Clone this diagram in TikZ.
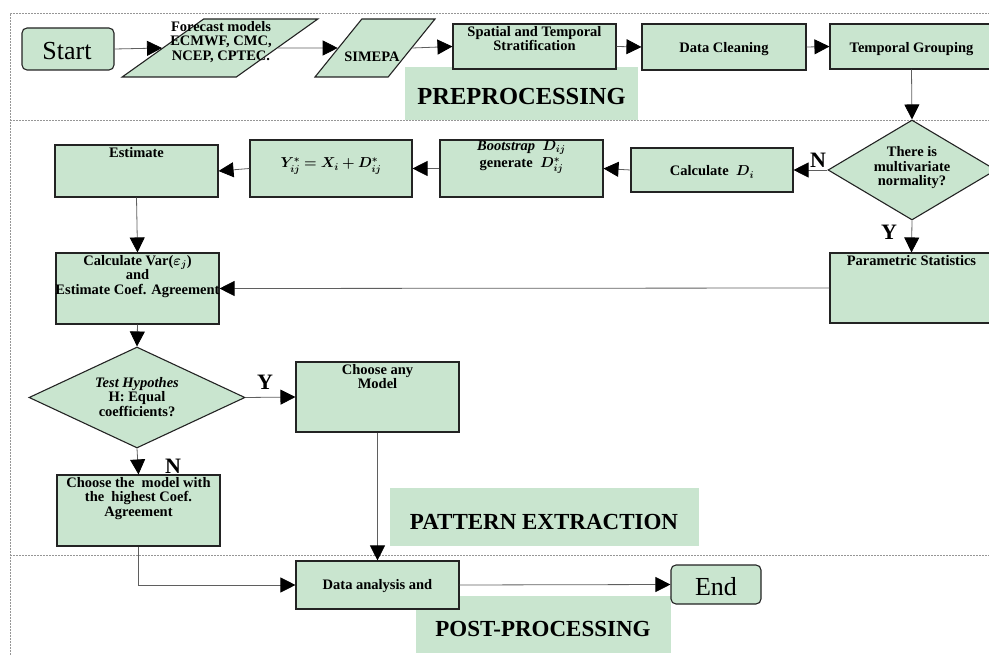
\documentclass[tikz,border=0pt]{standalone}
\usepackage{amsmath,bm}
\usepackage{fontspec}
\setmainfont{Liberation Serif}
\usetikzlibrary{shapes.geometric,arrows.meta}
\definecolor{boxgreen}{RGB}{201,229,207}
\definecolor{edgegray}{RGB}{35,35,35}
\definecolor{linegray}{RGB}{95,95,95}
\definecolor{framegray}{RGB}{150,150,150}
\begin{document}
\begin{tikzpicture}[x=1pt,y=-1pt,
  box/.style={draw=edgegray, fill=boxgreen, line width=1.1pt, inner sep=0pt},
  pgram/.style={box, trapezium, trapezium stretches=true, inner sep=2pt},
  dmd/.style={box, diamond, inner sep=2pt},
  txt/.style={font=\bfseries\fontsize{14.5}{14.5}\selectfont, align=center, inner sep=0pt},
  big/.style={font=\fontsize{26}{26}\selectfont, inner sep=0pt},
  stage/.style={fill=boxgreen, inner sep=0pt},
  stagetxt/.style={font=\bfseries\fontsize{23}{23}\selectfont, inner sep=0pt},
  yn/.style={font=\bfseries\fontsize{22}{22}\selectfont, inner sep=0pt},
  conn/.style={draw=linegray, line width=0.8pt, -{Triangle[length=15pt,width=15pt,black]}},
  frame/.style={draw=framegray, line width=0.5pt, dash pattern=on 2pt off 1pt}
]
\useasboundingbox (0,0) rectangle (989,655);
\clip (0,0) rectangle (989,655);
% frame
\draw[frame] (10,655) -- (10,13) -- (989,13);
\draw[frame] (10,120) -- (989,120);
\draw[frame] (10,555) -- (989,555);
% stage labels
\node[stage, minimum width=233pt, minimum height=53pt] (pre) at (521.5,93.5) {};
\node[stagetxt, font=\bfseries\fontsize{24.5}{24.5}\selectfont] (pret) at (521.5,97) {PREPROCESSING};
\node[stage, minimum width=309pt, minimum height=58pt] (pat) at (544.5,517) {};
\node[stagetxt] (patt) at (544,522) {PATTERN EXTRACTION};
\node[stage, minimum width=255pt, minimum height=57pt] (post) at (543.5,624.5) {};
\node[stagetxt] (postt) at (543,629) {POST-PROCESSING};
% row 1
\node[box, rounded corners=5pt, minimum width=92pt, minimum height=42pt] (start) at (68,49) {};
\node[big] (startt) at (67,51) {Start};
\node[pgram, trapezium left angle=58, trapezium right angle=122, minimum width=196pt, minimum height=58pt] (fc) at (220,48) {\strut};
\node[txt] (fct) at (221,42) {Forecast models\\ECMWF, CMC,\\NCEP, CPTEC.};
\node[pgram, trapezium left angle=66, trapezium right angle=114, minimum width=120pt, minimum height=58pt] (sim) at (375,48) {\strut};
\node[txt] (simt) at (372,57) {SIMEPA};
\node[box, minimum width=163pt, minimum height=45pt] (spat) at (534.5,46.5) {};
\node[txt, anchor=north] (spatt) at (534.5,26) {Spatial and Temporal\\Stratification};
\node[box, minimum width=164pt, minimum height=46pt] (clean) at (724,47) {};
\node[txt] (cleant) at (724,49) {Data Cleaning};
\node[box, minimum width=163pt, minimum height=45pt] (tgrp) at (911.5,46.5) {};
\node[txt] (tgrpt) at (911.5,49) {Temporal Grouping};
% row 2
\node[dmd, minimum width=168pt, minimum height=100pt] (dia1) at (912,170) {};
\node[txt] (dia1t) at (912,168) {There is\\multivariate\\normality?};
\node[box, minimum width=162pt, minimum height=44pt] (calcd) at (712,170) {};
\node[txt] (calcdt) at (712,172) {Calculate \ $\bm{D_i}$};
\node[box, minimum width=163pt, minimum height=57pt] (boot) at (521.5,168.5) {};
\node[txt, anchor=north] (boott) at (521.5,140) {{\itshape Bootstrap}\ \ $\bm{D_{ij}}$\\[3pt]generate\ \ $\bm{D^{*}_{ij}}$};
\node[box, minimum width=162pt, minimum height=57pt] (ybox) at (331,168.5) {};
\node[txt] (yboxt) at (331,166) {$\bm{Y^{*}_{ij}=X_i+D^{*}_{ij}}$};
\node[box, minimum width=163pt, minimum height=52pt] (est) at (136.5,171) {};
\node[txt, anchor=north] (estt) at (136.5,147) {Estimate};
% row 3
\node[box, minimum width=163pt, minimum height=71pt] (cvar) at (137.5,288.5) {};
\node[txt, anchor=north] (cvart) at (137.5,255) {Calculate Var($\bm{\varepsilon_j}$)\\and\\Estimate Coef. Agreement};
\node[box, minimum width=163pt, minimum height=70pt] (param) at (911.5,288) {};
\node[txt, anchor=north] (paramt) at (911.5,255) {Parametric Statistics};
% row 4
\node[dmd, minimum width=216pt, minimum height=101pt] (dia2) at (137,397.5) {};
\node[txt] (dia2t) at (137,397) {{\itshape Test Hypothes}\\H: Equal\\coefficients?};
\node[box, minimum width=163pt, minimum height=70pt] (cany) at (377.5,397) {};
\node[txt, anchor=north] (canyt) at (377.5,364) {Choose any\\Model};
\node[box, minimum width=163pt, minimum height=71pt] (cmod) at (138.5,510.5) {};
\node[txt, anchor=north] (cmodt) at (138.5,477) {Choose the\ \ model with\\the\ \ highest Coef.\\Agreement};
% row 5
\node[box, minimum width=163pt, minimum height=48pt] (data) at (377.5,585) {};
\node[txt] (datat) at (377.5,586) {Data analysis and};
\node[box, rounded corners=5pt, minimum width=90pt, minimum height=39pt] (endn) at (716,584.5) {};
\node[big] (endt) at (716,587) {End};
% connectors
\draw[conn] (start.east) -- (fc.west);
\draw[conn] (fc.east) -- (sim.west);
\draw[conn] (sim.east) -- (spat.west);
\draw[conn] (spat.east) -- (clean.west);
\draw[conn] (clean.east) -- (tgrp.west);
\draw[conn] (tgrp.south) -- (dia1.north);
\draw[conn] (dia1.west) -- (calcd.east);
\draw[conn] (calcd.west) -- (boot.east);
\draw[conn] (boot.west) -- (ybox.east);
\draw[conn] (ybox.west) -- (est.east);
\draw[conn] (est.south) -- (cvar.north);
\draw[conn] (dia1.south) -- (param.north);
\draw[conn] (param.west) -- (cvar.east);
\draw[conn] (cvar.south) -- (dia2.north);
\draw[conn] (dia2.east) -- (cany.west);
\draw[conn] (dia2.south) -- (cmod.north);
\draw[conn] (cany.south) -- (data.north);
\draw[conn] (cmod.south) |- (data.west);
\draw[conn] (data.east) -- (endn.west);
% Y / N labels
\node[yn] (n1) at (818,160) {N};
\node[yn] (y1) at (889,232) {Y};
\node[yn] (y2) at (265,382) {Y};
\node[yn] (n2) at (173,466) {N};
\end{tikzpicture}
\end{document}
